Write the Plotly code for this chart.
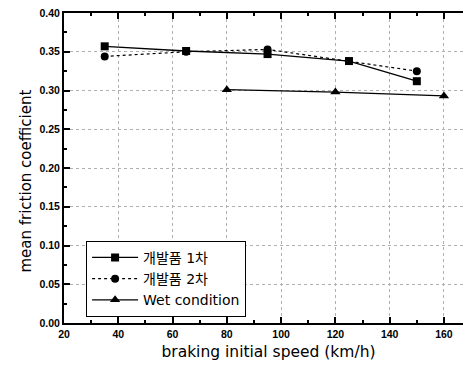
import plotly.graph_objects as go

speed1 = [35, 65, 95, 125, 150]
coef1 = [0.357, 0.351, 0.347, 0.338, 0.312]
speed2 = [35, 65, 95, 150]
coef2 = [0.344, 0.350, 0.353, 0.325]
speed3 = [80, 120, 160]
coef3 = [0.301, 0.298, 0.293]
names = ["개발품 1차", "개발품 2차", "Wet condition"]
x_title = "braking initial speed (km/h)"
y_title = "mean friction coefficient"

fig = go.Figure()
fig.add_trace(go.Scatter(x=speed1, y=coef1, name=names[0], mode="lines+markers",
                         line=dict(color="black", width=1.3),
                         marker=dict(symbol="square", size=8, color="black")))
fig.add_trace(go.Scatter(x=speed2, y=coef2, name=names[1], mode="lines+markers",
                         line=dict(color="black", width=1.2, dash="dot"),
                         marker=dict(symbol="circle", size=8, color="black")))
fig.add_trace(go.Scatter(x=speed3, y=coef3, name=names[2], mode="lines+markers",
                         line=dict(color="black", width=1.3),
                         marker=dict(symbol="triangle-up", size=9, color="black")))

axis_common = dict(showline=True, linecolor="black", linewidth=2, mirror="ticks",
                   ticks="inside", ticklen=6, tickwidth=1.5, tickcolor="black",
                   showgrid=True, gridcolor="#b0b0b0", griddash="dot", gridwidth=1,
                   zeroline=False, automargin=False, ticklabeloverflow="allow",
                   tickfont=dict(family="Liberation Sans", size=10.5, color="black", weight="bold"))

fig.update_xaxes(range=[20, 170.7], tick0=20, dtick=20,
                 minor=dict(dtick=10, ticks="inside", ticklen=3, tickcolor="black", showgrid=False),
                 title=dict(text=x_title,
                            font=dict(family="DejaVu Sans", size=15.5, color="black"), standoff=8),
                 **axis_common)
fig.update_yaxes(range=[0, 0.40], tick0=0, dtick=0.05, tickformat=".2f",
                 minor=dict(dtick=0.025, ticks="inside", ticklen=3, tickcolor="black", showgrid=False),
                 **axis_common)

fig.add_annotation(text=y_title, textangle=-90, showarrow=False,
                   xref="paper", yref="paper", x=-0.094, y=0.458,
                   xanchor="center", yanchor="middle",
                   font=dict(family="DejaVu Sans", size=15, color="black"))

fig.update_layout(width=471, height=374,
                  margin=dict(l=56, r=6, t=5, b=59),
                  plot_bgcolor="white", paper_bgcolor="white",
                  legend=dict(x=0.054, y=0.265, xanchor="left", yanchor="top",
                              bordercolor="black", borderwidth=1, bgcolor="white",
                              font=dict(family="DejaVu Sans, Noto Sans CJK KR", size=14, color="black"),
                              tracegroupgap=0, itemwidth=46))
fig.write_html("out.html")
